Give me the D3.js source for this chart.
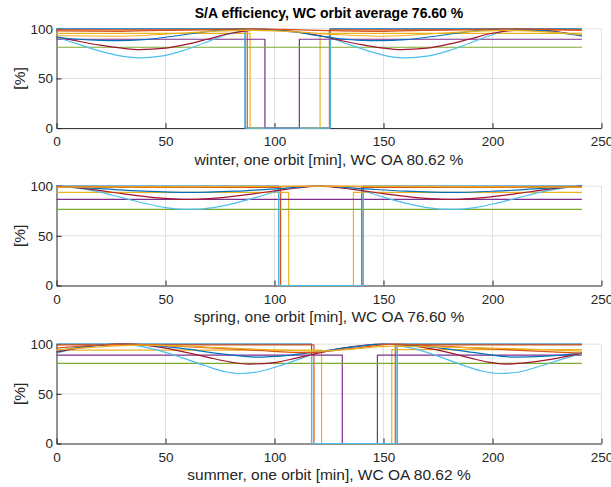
<!DOCTYPE html>
<html>
<head>
<meta charset="utf-8">
<script src="https://cdn.jsdelivr.net/npm/d3@7"></script>
<style>
  body { margin: 0; background: #fff; }
  svg { font-family: "Liberation Sans", Arial, Helvetica, sans-serif; }
</style>
</head>
<body>
<div id="chart"></div>
<script>
// values: [minute, %], a repeated minute marks an eclipse drop / rise
const seasons = ['winter', 'spring', 'summer'];
const orbitAverages = ['80.62', '76.60', '80.62'];
const worstCaseAverage = '76.60';
const xTicks = [0, 50, 100, 150, 200, 250];
const yTicks = [0, 50, 100];

// MATLAB default colour order, cycled
const lineColors = ['#0072BD', '#D95319', '#EDB120', '#7E2F8E', '#77AC30',
                    '#4DBEEE', '#A2142F', '#0072BD', '#D95319', '#EDB120'];

const winterSeries = [
  [[0,100],[86.5,100],[86.5,0],[125.5,0],[125.5,100],[241,100]],
  [[0,99],[87.5,99],[87.5,0],[125.2,0],[125.2,99],[241,99]],
  [[0,95.3],[88.8,95.3],[88.8,0],[120.9,0],[120.9,95.3],[241,95.3]],
  [[0,89.5],[95.6,89.5],[95.6,0],[111.4,0],[111.4,89.5],[241,89.5]],
  [[0,81.4],[241,81.4]],
  [[0,91.5],[10,84.5],[20,77.5],[30,72.5],[38,70.8],[48,72.5],[58,78],[68,86],[78,94],[86.5,98.5],
   [86.5,0],[125.5,0],
   [125.5,91],[135,83.5],[145,76.5],[153,72],[160,70.8],[170,72.5],[180,78],[190,86],[200,94],[208,99],[220,98.5],[230,96],[241,92.5]],
  [[0,92],[10,87.5],[20,83.5],[30,80.5],[38,79],[50,80.5],[60,84.5],[70,90],[80,95.5],[90,98.5],[100,99],[110,97],[120,93.5],
   [130,88.5],[140,84],[150,80.5],[158,79],[170,80.5],[180,84.5],[190,90],[200,95.5],[210,98.5],[220,99],[230,97],[241,93]],
  [[0,91.5],[10,89.5],[20,88.3],[28,88],[40,89],[50,91.5],[60,94.5],[70,97.5],[80,99.5],[90,100],[100,99],[110,96.5],[120,93],
   [130,90],[140,88.3],[148,88],[160,89],[170,91.5],[180,94.5],[190,97.5],[200,99.5],[210,100],[220,99],[230,96.5],[241,93]],
  [[0,98],[30,97.5],[60,99],[90,100],[120,98.5],[150,97.5],[180,99],[210,100],[241,98.5]],
  [[0,93],[30,92.5],[60,96],[85,98.5],[110,97],[130,94],[150,92.5],[180,96],[205,98.5],[225,97],[241,94]]
];

const springSeries = [
  [[0,100],[101.9,100],[101.9,0],[140.7,0],[140.7,100],[241,100]],
  [[0,98.8],[102.8,98.8],[102.8,0],[140,0],[140,98.8],[241,98.8]],
  [[0,93.7],[106.5,93.7],[106.5,0],[136.2,0],[136.2,93.7],[241,93.7]],
  [[0,86.7],[241,86.7]],
  [[0,76.6],[241,76.6]],
  [[0,100],[10,98],[20,94],[30,88.5],[40,83],[50,78.5],[61,76.6],[72,78.5],[82,83],[92,89],[101.9,95.5],
   [101.9,0],[140.7,0],
   [140.7,95.5],[150,89],[160,83],[170,78.5],[181,76.6],[192,78.5],[202,83],[212,88.5],[222,94],[232,98],[241,100]],
  [[0,100],[15,97],[30,92.5],[45,88.5],[61,86.7],[76,88.5],[91,92.5],[106,97],[120.5,100],
   [135,97],[150,92.5],[165,88.5],[181,86.7],[196,88.5],[211,92.5],[226,97],[241,100]],
  [[0,100],[20,97.5],[40,95],[61,93.7],[82,95],[102,97.5],[120.5,100],[140,97.5],[160,95],[181,93.7],[201,95],[221,97.5],[241,100]],
  [[0,99.5],[61,98.8],[120.5,100],[181,98.8],[241,99.5]],
  [[0,99],[61,99.5],[120.5,100],[181,99.5],[241,99]]
];

const summerSeries = [
  [[0,100],[117,100],[117,0],[156.3,0],[156.3,100],[241,100]],
  [[0,99.3],[118.1,99.3],[118.1,0],[155.4,0],[155.4,99.3],[241,99.3]],
  [[0,94],[121.6,94],[121.6,0],[153.8,0],[153.8,94.5],[241,94.5]],
  [[0,89],[131.1,89],[131.1,0],[147.2,0],[147.2,89],[241,89]],
  [[0,80.6],[241,80.6]],
  [[0,91],[8,95.5],[18,99],[28,100],[38,98],[48,93],[58,86],[68,78.5],[78,72],[84,70.5],[92,72],[102,78],[110,84],[117,89.5],
   [117,0],[156.3,0],
   [156.3,98.5],[165,95],[175,88],[185,80],[195,73],[203,70.5],[212,72],[222,78],[232,85],[241,91]],
  [[0,92],[10,96],[20,99],[30,100],[40,99],[50,96],[60,91.5],[70,86.5],[80,82],[88,80],[100,81.5],[110,86],[120,91],
   [130,95.5],[140,98.5],[150,100],[160,99],[170,96],[180,91.5],[190,86],[198,82],[206,80],[218,82],[230,86],[241,91]],
  [[0,93],[15,98],[30,100],[45,98.5],[60,95],[75,90.5],[92,87],[105,88.5],[120,92.5],[135,97],[150,100],
   [165,98.5],[180,95],[195,90.5],[210,87],[225,88],[241,91]],
  [[0,96],[33,100],[60,97.5],[90,94],[116,91.5],[135,95.5],[155,100],[180,97.5],[210,94],[241,91]],
  [[0,94],[40,99],[80,96],[121,93],[155,98],[180,97],[210,95.5],[241,93]]
];

const seasonSeries = [winterSeries, springSeries, summerSeries];

const width = 611;
const height = 487;
const left = 56.5;
const plotWidth = 545;
const plotHeight = 99.3;
const panelTops = [28.8, 186.2, 344.2];
const axisColor = '#262626';

const svg = d3.select('#chart').append('svg')
    .attr('width', width)
    .attr('height', height);

const x = d3.scaleLinear().domain([0, 250]).range([0, plotWidth]);
const y = d3.scaleLinear().domain([0, 100]).range([plotHeight, 0]);

const smooth = d3.line()
    .x(d => x(d[0]))
    .y(d => y(d[1]))
    .curve(d3.curveMonotoneX);

// split at repeated minutes (vertical jumps), smooth each run, join them with straight lines
function seriesPath(points) {
    const runs = [];
    let run = [];
    points.forEach((p, i) => {
        if (i > 0 && p[0] === points[i - 1][0]) {
            runs.push(run);
            run = [];
        }
        run.push(p);
    });
    runs.push(run);
    return runs.map((r, i) => {
        const d = smooth(r);
        return i === 0 ? d : 'L' + d.slice(1);
    }).join('');
}

svg.append('text')
    .attr('x', left + plotWidth / 2)
    .attr('y', 17.5)
    .attr('text-anchor', 'middle')
    .attr('font-size', 14)
    .attr('font-weight', 'bold')
    .attr('fill', '#000')
    .text(`S/A efficiency, WC orbit average ${worstCaseAverage} %`);

seasons.forEach((season, i) => {
    const g = svg.append('g')
        .attr('transform', `translate(${left},${panelTops[i]})`);

    // grid
    g.append('g').selectAll('line')
        .data(xTicks.slice(1))
        .enter().append('line')
        .attr('x1', d => x(d)).attr('x2', d => x(d))
        .attr('y1', 0).attr('y2', plotHeight)
        .attr('stroke', '#e1e1e1')
        .attr('stroke-width', 1);
    g.append('g').selectAll('line')
        .data(yTicks.slice(1))
        .enter().append('line')
        .attr('x1', 0).attr('x2', plotWidth)
        .attr('y1', d => y(d)).attr('y2', d => y(d))
        .attr('stroke', '#e1e1e1')
        .attr('stroke-width', 1);

    const xAxis = g.append('g')
        .attr('transform', `translate(0,${plotHeight})`)
        .call(d3.axisBottom(x).tickValues(xTicks).tickSizeInner(-5).tickSizeOuter(0).tickPadding(8.5));
    const yAxis = g.append('g')
        .call(d3.axisLeft(y).tickValues(yTicks).tickSizeInner(-5).tickSizeOuter(0).tickPadding(3.5));

    [xAxis, yAxis].forEach(a => {
        a.select('.domain').attr('stroke', axisColor);
        a.selectAll('.tick line').attr('stroke', axisColor);
        a.selectAll('.tick text')
            .attr('fill', axisColor)
            .attr('font-size', 13.5)
            .attr('font-family', '"Liberation Sans", Arial, Helvetica, sans-serif');
    });

    g.append('g').selectAll('path')
        .data(seasonSeries[i])
        .enter().append('path')
        .attr('d', d => seriesPath(d))
        .attr('fill', 'none')
        .attr('stroke', (d, k) => lineColors[k % lineColors.length])
        .attr('stroke-width', 1.2)
        .attr('stroke-linejoin', 'round');

    g.append('text')
        .attr('x', plotWidth / 2)
        .attr('y', plotHeight + 37)
        .attr('text-anchor', 'middle')
        .attr('font-size', 15.5)
        .attr('fill', axisColor)
        .text(`${season}, one orbit [min], WC OA ${orbitAverages[i]} %`);

    g.append('text')
        .attr('transform', `translate(-32,${plotHeight / 2}) rotate(-90)`)
        .attr('text-anchor', 'middle')
        .attr('font-size', 15.5)
        .attr('fill', axisColor)
        .text('[%]');
});
</script>
</body>
</html>
